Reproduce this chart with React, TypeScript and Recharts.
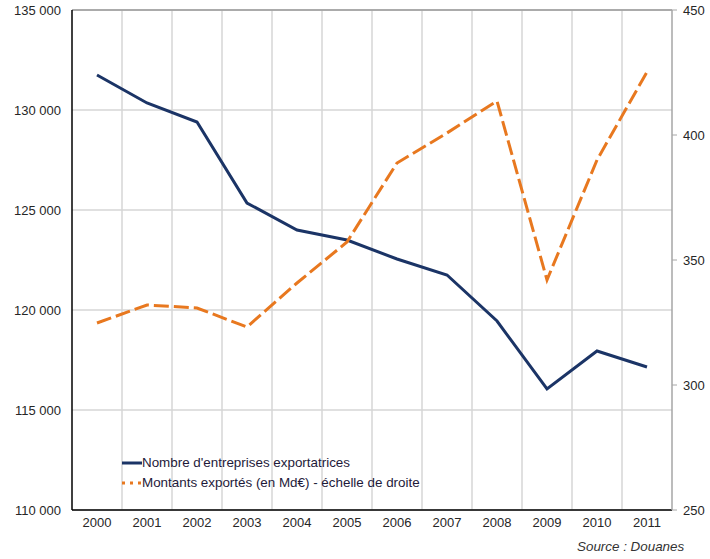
import React from 'react';
import {
  ComposedChart,
  Line,
  XAxis,
  YAxis,
  CartesianGrid,
  Legend,
  ReferenceLine,
} from 'recharts';

const years = ['2000', '2001', '2002', '2003', '2004', '2005', '2006', '2007', '2008', '2009', '2010', '2011'];
const nombreEntreprises = [131750, 130350, 129400, 125350, 124000, 123500, 122550, 121750, 119450, 116050, 117950, 117150];
const montantsExportes = [324.8, 332, 330.8, 323.2, 340.8, 357.2, 388.8, 400.8, 413.6, 342, 390, 425.2];
const leftTicks = [110000, 115000, 120000, 125000, 130000, 135000];
const rightTicks = [250, 300, 350, 400, 450];

const seriesNames = {
  nombre: "Nombre d'entreprises exportatrices",
  montants: 'Montants exportés (en Md€) - échelle de droite',
};

const data = years.map((y, i) => ({
  year: y,
  nombre: nombreEntreprises[i],
  montants: montantsExportes[i],
}));

const FONT = '"Liberation Sans", Arial, sans-serif';
const BLUE = '#1b3466';
const ORANGE = '#e8781f';
const TEXT = '#262626';

const fmt = (v: number) => {
  const s = String(v);
  return s.length > 3 ? s.slice(0, s.length - 3) + ' ' + s.slice(s.length - 3) : s;
};

const LegendContent = () => (
  <div style={{ fontFamily: FONT, fontSize: 13.4, color: '#1e1a3a', lineHeight: '20px' }}>
    <div style={{ display: 'flex', alignItems: 'center', whiteSpace: 'nowrap' }}>
      <svg width={21} height={20} style={{ display: 'block' }}>
        <line x1={1} y1={10} x2={21} y2={10} stroke={BLUE} strokeWidth={3} />
      </svg>
      <span>{seriesNames.nombre}</span>
    </div>
    <div style={{ display: 'flex', alignItems: 'center', whiteSpace: 'nowrap' }}>
      <svg width={21} height={20} style={{ display: 'block' }}>
        <line x1={1} y1={10} x2={21} y2={10} stroke={ORANGE} strokeWidth={3} strokeDasharray="3 5" />
      </svg>
      <span>{seriesNames.montants}</span>
    </div>
  </div>
);

export default function App() {
  return (
    <div style={{ position: 'absolute', left: 0, top: 0, width: 710, height: 559, background: '#fff' }}>
      <ComposedChart
        width={710}
        height={559}
        data={data}
        margin={{ top: 10, right: 0, bottom: 0, left: 0 }}
      >
        <CartesianGrid
          yAxisId="left"
          stroke="#d6d6d6"
          strokeWidth={1.5}
          verticalCoordinatesGenerator={({ offset }: any) =>
            years.slice(1).map((_, i) => offset.left + ((i + 1) * offset.width) / years.length)
          }
        />
        <XAxis
          dataKey="year"
          scale="band"
          height={49}
          axisLine={{ stroke: '#000', strokeWidth: 1.5 }}
          tickLine={false}
          tickSize={0}
          tickMargin={8}
          tick={{ fill: TEXT, fontSize: 13, fontFamily: FONT }}
          interval={0}
        />
        <YAxis
          yAxisId="left"
          width={72}
          domain={[110000, 135000]}
          ticks={leftTicks}
          tickFormatter={fmt}
          axisLine={{ stroke: '#000', strokeWidth: 1.5 }}
          tickLine={false}
          tickSize={0}
          tickMargin={11}
          tick={{ fill: TEXT, fontSize: 13, fontFamily: FONT }}
          allowDataOverflow
        />
        <YAxis
          yAxisId="right"
          orientation="right"
          width={38}
          domain={[250, 450]}
          ticks={rightTicks}
          axisLine={{ stroke: '#a6a6a6', strokeWidth: 1.5 }}
          tickLine={{ stroke: '#a6a6a6' }}
          tickSize={5}
          tickMargin={6}
          tick={{ fill: TEXT, fontSize: 13, fontFamily: FONT }}
          allowDataOverflow
        />
        <ReferenceLine yAxisId="left" y={135000} stroke="#9a9a9a" strokeWidth={1.5} />
        <Legend
          layout="vertical"
          align="center"
          verticalAlign="middle"
          content={<LegendContent />}
          wrapperStyle={{ position: 'absolute', left: 121, top: 453, width: 'auto', height: 'auto' }}
        />
        <Line
          yAxisId="left"
          type="linear"
          dataKey="nombre"
          name={seriesNames.nombre}
          stroke={BLUE}
          strokeWidth={3}
          dot={false}
          activeDot={false}
          isAnimationActive={false}
        />
        <Line
          yAxisId="right"
          type="linear"
          dataKey="montants"
          name={seriesNames.montants}
          stroke={ORANGE}
          strokeWidth={3}
          strokeDasharray="15 5"
          dot={false}
          activeDot={false}
          isAnimationActive={false}
        />
      </ComposedChart>
      <div
        style={{
          position: 'absolute',
          left: 577,
          top: 539,
          fontFamily: FONT,
          fontSize: 13.4,
          fontStyle: 'italic',
          color: '#333',
          whiteSpace: 'nowrap',
        }}
      >
        Source : Douanes
      </div>
    </div>
  );
}
